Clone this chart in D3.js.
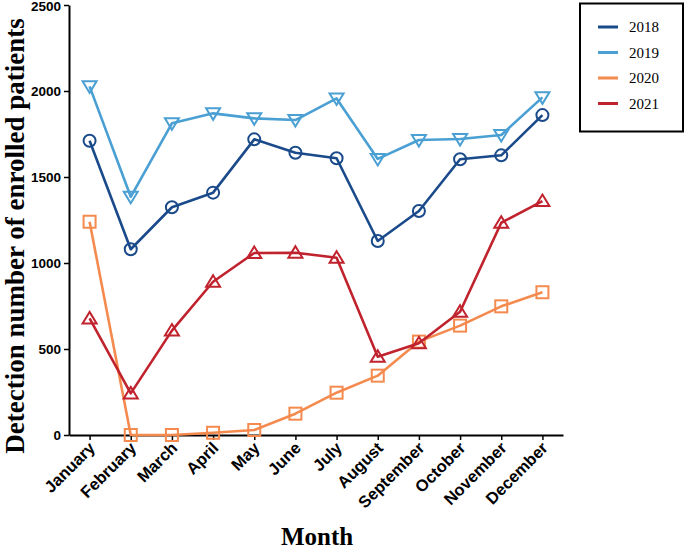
<!DOCTYPE html>
<html><head><meta charset="utf-8">
<script src="https://cdn.jsdelivr.net/npm/d3@7"></script>
<style>body{margin:0;background:#fff}</style>
</head><body>
<svg id="chart" width="685" height="549"></svg>
<script>
const months = ["January","February","March","April","May","June","July","August","September","October","November","December"];
const years = ["2018","2019","2020","2021"];
const v2018 = [1711,1080,1324,1409,1719,1641,1609,1128,1302,1603,1626,1860];
const v2019 = [2027,1385,1812,1870,1841,1831,1957,1605,1715,1721,1744,1963];
const v2020 = [1240,0,0,13,29,124,246,345,543,636,748,830];
const v2021 = [678,242,607,891,1058,1060,1031,455,533,717,1234,1360];
const yTicks = [0,500,1000,1500,2000,2500];
const colors = ["#1a4a8a","#4a9fd3","#f58a4e","#c0232e"];
const symbols = ["circle","triDown","square","triUp"];

const seriesData = [v2018,v2019,v2020,v2021];
const svg = d3.select("#chart");
const x = d3.scalePoint().domain(months).range([69,563]).padding(0.5);
const y = d3.scaleLinear().domain([0,2500]).range([435,5]);

// axes
const yAxis = svg.append("g").attr("transform","translate(69,0)")
  .call(d3.axisLeft(y).tickValues(yTicks).tickFormat(d3.format("d")).tickSize(5).tickSizeOuter(0).tickPadding(3));
const xAxis = svg.append("g").attr("transform","translate(0,435)")
  .call(d3.axisBottom(x).tickSize(5).tickSizeOuter(0));
[yAxis,xAxis].forEach(g=>{
  g.select(".domain").attr("stroke","#000").attr("stroke-width",2);
  g.selectAll(".tick line").attr("stroke","#000").attr("stroke-width",1.5);
  g.selectAll("text").attr("font-family","Liberation Sans, Arial, sans-serif")
    .attr("font-weight","bold").attr("fill","#000");
});
yAxis.selectAll("text").attr("font-size",13.5);
yAxis.selectAll(".tick text").filter(d=>d===2500).attr("dy","0.42em");
xAxis.selectAll(".tick text").attr("font-size",16.5).attr("text-anchor","end").attr("dy",null).attr("y",null)
  .attr("transform","translate(6,14) rotate(-45)");

// lines + markers
const line = d3.line().x((d,i)=>x(months[i])).y(d=>y(d));
seriesData.forEach((vals,k)=>{
  svg.append("path").datum(vals).attr("d",line).attr("fill","none")
    .attr("stroke",colors[k]).attr("stroke-width",2.6).attr("stroke-linejoin","round");
  const g = svg.append("g");
  vals.forEach((v,i)=>{
    const cx = x(months[i]), cy = y(v);
    const s = symbols[k];
    let el;
    if(s==="circle"){
      el = g.append("circle").attr("cx",cx).attr("cy",cy).attr("r",6);
    } else if(s==="square"){
      el = g.append("rect").attr("x",cx-6).attr("y",cy-6).attr("width",12).attr("height",12);
    } else if(s==="triUp"){
      el = g.append("path").attr("d",`M${cx},${cy-6.5}L${cx+7},${cy+5}L${cx-7},${cy+5}Z`);
    } else {
      el = g.append("path").attr("d",`M${cx},${cy+6.5}L${cx+7},${cy-5}L${cx-7},${cy-5}Z`);
    }
    el.attr("fill","none").attr("stroke",colors[k]).attr("stroke-width",2);
  });
});

// axis titles
svg.append("text").attr("transform","translate(24,236) rotate(-90)")
  .attr("text-anchor","middle").attr("font-family","Liberation Serif, Times New Roman, serif")
  .attr("font-weight","bold").attr("font-size",27).text("Detection number of enrolled patients");
svg.append("text").attr("x",317).attr("y",545).attr("text-anchor","middle")
  .attr("font-family","Liberation Serif, Times New Roman, serif")
  .attr("font-weight","bold").attr("font-size",25).text("Month");

// legend
const lg = svg.append("g");
lg.append("rect").attr("x",580).attr("y",3.5).attr("width",103).attr("height",128)
  .attr("fill","#fff").attr("stroke","#000").attr("stroke-width",2);
years.forEach((yr,k)=>{
  const yy = 27 + k*25.5;
  lg.append("line").attr("x1",598).attr("x2",618).attr("y1",yy).attr("y2",yy)
    .attr("stroke",colors[k]).attr("stroke-width",3);
  lg.append("text").attr("x",629).attr("y",yy+5).attr("font-family","Liberation Serif, Times New Roman, serif")
    .attr("font-size",15).attr("fill","#000").text(yr);
});
</script>
</body></html>
